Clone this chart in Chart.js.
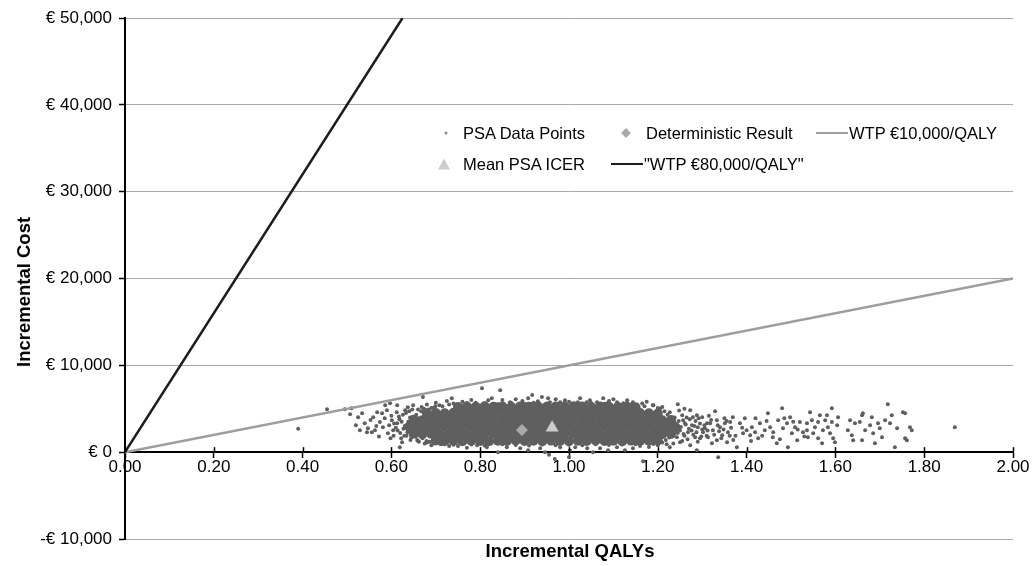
<!DOCTYPE html>
<html lang="en">
<head>
<meta charset="utf-8">
<title>PSA – plano custo-efetividade</title>
<script src="https://cdn.jsdelivr.net/npm/chart.js@4.4.1/dist/chart.umd.min.js"></script>
<style>
  html, body { margin: 0; background: #fff; }
  #painel { position: relative; width: 1034px; height: 566px; font-family: "Liberation Sans", Arial, sans-serif; color: #000; }
  #painel canvas { position: absolute; left: 0; top: 0; }
  .titulo-eixo { position: absolute; font-weight: bold; font-size: 18.5px; white-space: nowrap; transform: translate(-50%, -50%); }
  #tituloY { transform: translate(-50%, -50%) rotate(-90deg); }
  .legenda-texto { position: absolute; font-size: 16.5px; white-space: nowrap; transform: translateY(-50%); }
  .legenda-marca { position: absolute; transform: translate(-50%, -50%); }
</style>
</head>
<body>
<div id="painel">
  <canvas id="grafico" width="1034" height="566"></canvas>
  <div id="tituloY" class="titulo-eixo" style="left:24px; top:292px">Incremental Cost</div>
  <div id="tituloX" class="titulo-eixo" style="left:570px; top:551px">Incremental QALYs</div>
  <div id="legenda"></div>
</div>
<script>
/* Plano custo-efetividade da PSA (Chart.js). */

// Limites dos eixos: [mínimo, máximo, passo]
const eixoQaly = [0, 2, 0.2];
const eixoCusto = [-10000, 50000, 10000];

// Núcleo saturado da nuvem (QALY, custo) – onde os pontos se sobrepõem por completo
const psaNucleo = [
  [0.70,1340],[0.72,1290],[0.74,1310],[0.76,1270],[0.78,1330],[0.80,1300],[0.82,1260],[0.84,1320],[0.86,1290],
  [0.88,1340],[0.90,1280],[0.92,1310],[0.94,1270],[0.96,1330],[0.98,1300],[1.00,1260],[1.02,1320],[1.04,1290],
  [1.06,1340],[1.08,1280],[1.10,1310],[1.12,1270],[1.14,1330],[1.16,1300],[1.18,1320],[1.20,1350],
  [0.65,2120],[0.67,2080],[0.69,2110],[0.71,2070],[0.73,2130],[0.75,2100],[0.77,2060],[0.79,2120],[0.81,2090],
  [0.83,2140],[0.85,2080],[0.87,2110],[0.89,2070],[0.91,2130],[0.93,2100],[0.95,2060],[0.97,2120],[0.99,2090],
  [1.01,2140],[1.03,2080],[1.05,2110],[1.07,2070],[1.09,2130],[1.11,2100],[1.13,2060],[1.15,2120],[1.17,2090],
  [1.19,2140],[1.21,2080],[1.23,2110],
  [0.64,2920],[0.66,2880],[0.68,2910],[0.70,2870],[0.72,2930],[0.74,2900],[0.76,2860],[0.78,2920],[0.80,2890],
  [0.82,2940],[0.84,2880],[0.86,2910],[0.88,2870],[0.90,2930],[0.92,2900],[0.94,2860],[0.96,2920],[0.98,2890],
  [1.00,2940],[1.02,2880],[1.04,2910],[1.06,2870],[1.08,2930],[1.10,2900],[1.12,2860],[1.14,2920],[1.16,2890],
  [1.18,2940],[1.20,2880],[1.22,2910],[1.24,2870],
  [0.65,3720],[0.67,3680],[0.69,3710],[0.71,3670],[0.73,3730],[0.75,3700],[0.77,3660],[0.79,3720],[0.81,3690],
  [0.83,3740],[0.85,3680],[0.87,3710],[0.89,3670],[0.91,3730],[0.93,3700],[0.95,3660],[0.97,3720],[0.99,3690],
  [1.01,3740],[1.03,3680],[1.05,3710],[1.07,3670],[1.09,3730],[1.11,3700],[1.13,3660],[1.15,3720],[1.17,3690],
  [1.19,3740],[1.21,3680],[1.23,3700],
  [0.68,4480],[0.70,4520],[0.72,4470],[0.74,4530],[0.76,4500],[0.78,4460],[0.80,4520],[0.82,4490],[0.84,4540],
  [0.86,4480],[0.88,4510],[0.90,4470],[0.92,4530],[0.94,4500],[0.96,4460],[0.98,4520],[1.00,4490],[1.02,4540],
  [1.04,4480],[1.06,4510],[1.08,4470],[1.10,4530],[1.12,4500],[1.14,4460],[1.16,4520],[1.18,4490],[1.20,4450],
  [0.75,5200],[0.77,5260],[0.79,5230],[0.81,5280],[0.83,5220],[0.85,5250],[0.87,5210],[0.89,5270],[0.91,5240],
  [0.93,5290],[0.95,5230],[0.97,5260],[0.99,5220],[1.01,5280],[1.03,5250],[1.05,5210],[1.07,5270],[1.09,5240],
  [1.11,5200],[1.13,5250],[1.15,5180],
];

// Pontos soltos ao redor do núcleo e cauda à direita (QALY, custo)
const psaDispersos = [
  // borda esquerda
  [0.39,2700],[0.455,4950],[0.495,4950],[0.51,5070],[0.507,4380],[0.525,4030],[0.534,4490],[0.52,3110],[0.529,2530],
  [0.54,3340],[0.547,2760],[0.545,2300],[0.556,2300],[0.563,2530],[0.559,4030],[0.568,4610],[0.579,4490],[0.574,3460],
  [0.581,2880],[0.586,5410],[0.59,4840],[0.597,5640],[0.613,5410],[0.619,580],[0.624,1150],[0.631,4840],[0.637,5180],
  [0.649,5410],[0.671,6340],[0.736,6220],[0.592,2190],[0.604,2530],[0.601,3690],[0.613,3340],[0.585,3900],[0.595,3100],
  [0.60,4200],[0.605,1900],[0.61,2800],[0.612,4600],[0.618,3800],[0.62,2200],[0.622,1600],[0.626,4300],[0.63,3000],
  [0.634,1900],[0.638,3500],[0.64,4700],[0.643,1400],[0.648,2600],[0.652,3900],[0.655,1800],[0.66,4900],[0.662,1200],
  [0.668,5200],[0.675,1000],[0.68,5500],[0.69,800],[0.70,5700],[0.712,900],[0.725,5900],[0.73,700],[0.572,1800],
  [0.598,1600],[0.566,3000],[0.553,3700],
  [0.606,3300],[0.614,2500],[0.617,4100],[0.623,3500],[0.627,2700],[0.629,1900],[0.633,4500],[0.636,2300],[0.639,3100],
  [0.642,4000],[0.645,1700],[0.647,4900],[0.65,3400],[0.653,2300],[0.656,4300],[0.658,1400],[0.661,3900],[0.664,2600],
  [0.667,4700],[0.67,1600],[0.673,5000],[0.676,4100],[0.679,1300],[0.683,4900],[0.686,1200],[0.69,5100],[0.694,1000],
  [0.699,5300],[0.703,1100],[0.708,5400],
  // borda de cima
  [0.804,7370],[0.845,7140],[0.818,5990],[0.826,6220],[0.867,5760],[0.908,6220],[0.917,6570],[0.939,6340],[0.953,6220],
  [0.957,5760],[0.98,5760],[0.991,5990],[1.02,5760],[1.025,6220],[1.047,5990],[1.063,5760],[1.077,6220],[1.086,5640],
  [1.108,5760],[1.122,5640],[1.131,5990],[1.144,5760],[1.153,5410],[0.76,5800],[0.78,6000],[0.79,5700],[0.85,6000],
  [0.88,6100],[0.895,5900],[0.93,5850],[0.97,6100],[1.0,5800],[1.04,5750],[1.09,5900],[1.1,6100],[1.165,5600],
  [1.175,5800],[1.19,5400],[1.21,5200],[0.74,5600],[0.715,5300],[0.695,5100],
  [0.73,5500],[0.77,5650],[0.81,5600],[0.84,5550],[0.87,5650],[0.90,5580],[0.92,5700],[0.95,5600],[0.99,5680],
  [1.02,5550],[1.05,5650],[1.08,5580],[1.11,5620],[1.14,5500],[1.17,5300],[1.20,5100],
  // borda de baixo (alguns abaixo de zero)
  [0.793,810],[0.815,580],[0.84,0],[0.86,580],[0.89,460],[0.908,230],[0.935,460],[0.946,0],[0.98,580],[1.002,230],
  [1.014,580],[1.041,460],[1.054,0],[1.07,460],[1.088,230],[1.108,580],[1.126,230],[1.144,460],[0.72,900],[0.75,700],
  [0.77,500],[1.16,700],[1.18,600],[1.2,800],[1.22,900],[0.68,1100],[0.66,1300],
  [0.71,950],[0.74,850],[0.78,880],[0.81,780],[0.85,900],[0.88,820],[0.91,760],[0.94,880],[0.97,800],[1.00,860],
  [1.03,790],[1.06,900],[1.09,820],[1.12,870],[1.15,900],[1.19,950],
  [0.968,-800],[1.0,-580],[1.167,-1040],[1.336,-580],[0.955,-300],
  // transição à direita do núcleo
  [1.189,5410],[1.212,3690],[1.227,4610],[1.234,2880],[1.243,1730],[1.245,5530],[1.25,1150],[1.227,580],[1.255,4260],
  [1.257,3690],[1.261,3340],[1.268,2300],[1.273,4840],[1.273,810],[1.277,3110],[1.279,4030],[1.284,1730],[1.288,4260],
  [1.288,230],[1.29,2880],[1.295,1610],[1.30,4030],[1.302,2300],[1.306,2760],[1.311,3340],[1.313,1730],[1.318,3340],
  [1.322,1040],[1.324,2530],[1.329,4720],[1.333,3690],[1.333,1380],[1.34,2880],[1.345,1960],[1.351,3340],[1.356,1150],
  [1.358,2300],[1.363,3460],[1.369,4030],[1.378,580],[1.385,3340],[1.392,2190],[1.396,3920],[1.40,2530],[1.408,1960],
  [1.25,2500],[1.26,1900],[1.265,4000],[1.27,2700],[1.28,2000],[1.285,3600],[1.29,1200],[1.295,3300],[1.30,2600],
  [1.31,1900],[1.315,4200],[1.24,3300],[1.245,2200],[1.248,4800],[1.255,1300],[1.235,1000],[1.26,5000],
  [1.205,5000],[1.21,1100],[1.215,4700],[1.218,1400],[1.222,4300],[1.226,1700],[1.229,3500],[1.232,2000],[1.238,4000],
  [1.241,2500],[1.247,3600],[1.252,2900],[1.258,2100],[1.263,3200],[1.267,1500],[1.272,3800],[1.276,2500],[1.282,3000],
  [1.287,2300],[1.292,3900],[1.298,1800],[1.305,3100],[1.312,2500],[1.32,3700],[1.327,2000],[1.335,3100],[1.343,1600],
  [1.348,2600],[1.355,3600],[1.362,1900],
  // cauda
  [1.412,2880],[1.419,2300],[1.426,1610],[1.43,3340],[1.441,2530],[1.448,4490],[1.453,2880],[1.459,1730],[1.468,1040],
  [1.471,3690],[1.48,5070],[1.482,2760],[1.491,3340],[1.493,580],[1.498,4030],[1.502,2190],[1.509,2880],[1.514,1380],
  [1.52,3460],[1.527,2300],[1.536,3340],[1.42,3900],[1.435,1900],[1.445,3600],[1.46,2300],[1.475,1500],[1.485,3900],
  [1.505,3500],[1.515,2600],[1.53,1800],[1.41,1300],[1.39,2800],[1.375,1900],[1.365,2800],[1.35,3900],[1.338,2400],
  [1.37,1400],
  [1.536,2530],[1.543,4610],[1.547,3690],[1.538,1730],[1.55,2190],[1.554,2880],[1.561,1610],[1.561,3460],[1.565,4260],
  [1.572,2530],[1.57,1040],[1.577,3690],[1.581,4260],[1.583,2880],[1.588,2190],[1.592,5070],[1.592,3460],[1.595,1610],
  [1.599,1150],[1.604,3110],[1.606,4030],[1.628,2530],[1.633,3690],[1.637,1960],[1.64,1380],[1.644,3340],[1.655,3460],
  [1.66,4260],[1.662,4490],[1.667,2530],[1.66,1380],[1.678,3110],[1.682,4030],[1.685,2190],[1.689,1040],[1.696,3340],
  [1.70,2760],[1.705,1730],[1.712,3690],[1.718,5530],[1.723,3340],[1.727,4260],[1.734,580],[1.739,2760],[1.752,4610],
  [1.757,4490],[1.757,1610],[1.761,1380],[1.768,2880],[1.772,2530],[1.869,2880],
];

const resultadoDeterministico = [[0.894, 2550]];
const mediaPSA = [[0.962, 2800]];
// Retas de disposição a pagar: origem até a borda do gráfico
const wtp10mil = [[0, 0], [2, 20000]];
const wtp80mil = [[0, 0], [0.625, 50000]];

(() => {
  'use strict';

  const COR_PONTOS = '#5f5f5f';
  const COR_DETERMINISTICO = '#a9a9a9';
  const COR_MEDIA = '#cdcdcd';
  const COR_WTP10 = '#9e9e9e';
  const COR_WTP80 = '#1c1c1c';
  const FONTE = '"Liberation Sans", Arial, sans-serif';

  const paraPontos = (pares) => pares.map(([x, y]) => ({ x, y }));
  const fmtNum = new Intl.NumberFormat('en-US');
  const fmtEuro = (v) => (v === 0 ? '€ 0' : `${v < 0 ? '-' : ''}€ ${fmtNum.format(Math.abs(v))}`);

  // Marcas do eixo X atravessam a linha do eixo (o Chart.js só desenha a metade de baixo)
  const marcasCruzadas = {
    id: 'marcasCruzadas',
    afterDraw(chart) {
      const { ctx, scales } = chart;
      const y0 = scales.y.getPixelForValue(0);
      ctx.save();
      ctx.strokeStyle = '#000';
      ctx.lineWidth = 1.5;
      for (const t of scales.x.ticks) {
        const px = Math.round(scales.x.getPixelForValue(t.value)) + 0.5;
        ctx.beginPath();
        ctx.moveTo(px, y0 - 5);
        ctx.lineTo(px, y0);
        ctx.stroke();
      }
      ctx.restore();
    },
  };

  const dados = {
    datasets: [
      {
        label: 'PSA Data Points',
        data: paraPontos(psaNucleo),
        backgroundColor: COR_PONTOS,
        borderWidth: 0,
        pointRadius: 5,
        order: 5,
      },
      {
        label: 'PSA Data Points',
        data: paraPontos(psaDispersos),
        backgroundColor: COR_PONTOS,
        borderWidth: 0,
        pointRadius: 2,
        order: 4,
      },
      {
        label: 'Deterministic Result',
        data: paraPontos(resultadoDeterministico),
        pointStyle: 'rectRot',
        backgroundColor: COR_DETERMINISTICO,
        borderWidth: 0,
        pointRadius: 6,
        order: 3,
      },
      {
        label: 'Mean PSA ICER',
        data: paraPontos(mediaPSA),
        pointStyle: 'triangle',
        backgroundColor: COR_MEDIA,
        borderWidth: 0,
        pointRadius: 7.5,
        order: 2,
      },
      {
        label: 'WTP €10,000/QALY',
        data: paraPontos(wtp10mil),
        showLine: true,
        borderColor: COR_WTP10,
        borderWidth: 2.5,
        pointRadius: 0,
        order: 1,
      },
      {
        label: '"WTP €80,000/QALY"',
        data: paraPontos(wtp80mil),
        showLine: true,
        borderColor: COR_WTP80,
        borderWidth: 2.5,
        pointRadius: 0,
        order: 0,
      },
    ],
  };

  const opcoes = {
    responsive: false,
    animation: false,
    events: [],
    layout: { padding: { left: 0, right: 21, top: 18, bottom: 27 } },
    plugins: { legend: { display: false }, tooltip: { enabled: false } },
    scales: {
      x: {
        type: 'linear',
        position: { y: 0 },
        min: eixoQaly[0],
        max: eixoQaly[1],
        ticks: {
          stepSize: eixoQaly[2],
          autoSkip: false,
          maxRotation: 0,
          padding: 0,
          color: '#000',
          font: { family: FONTE, size: 17 },
          callback: (v) => Number(v).toFixed(2),
        },
        grid: { drawOnChartArea: false, tickLength: 5, tickColor: '#000', tickWidth: 1.5 },
        border: { color: '#000', width: 2 },
      },
      y: {
        type: 'linear',
        position: 'left',
        min: eixoCusto[0],
        max: eixoCusto[1],
        afterFit: (escala) => { escala.width = 125; },
        ticks: {
          stepSize: eixoCusto[2],
          padding: 7,
          color: '#000',
          font: { family: FONTE, size: 17 },
          callback: (v) => fmtEuro(v),
        },
        grid: { color: '#a8a8a8', lineWidth: 1, tickLength: 6, tickColor: '#000', tickWidth: 1.5 },
        border: { color: '#000', width: 2 },
      },
    },
  };

  new Chart(document.getElementById('grafico'), { type: 'scatter', data: dados, options: opcoes, plugins: [marcasCruzadas] });

  // Legenda em HTML, duas linhas como no original
  const legendaEl = document.getElementById('legenda');
  const ds = dados.datasets;
  const itens = [
    { linha: 133, marca: 'ponto', cor: COR_PONTOS, mx: 446, tx: 463, texto: ds[1].label },
    { linha: 133, marca: 'losango', cor: COR_DETERMINISTICO, mx: 626, tx: 646, texto: ds[2].label },
    { linha: 133, marca: 'reta', cor: COR_WTP10, mx: 832, tx: 849, texto: ds[4].label },
    { linha: 164, marca: 'triangulo', cor: COR_MEDIA, mx: 444, tx: 463, texto: ds[3].label },
    { linha: 164, marca: 'reta', cor: COR_WTP80, mx: 627, tx: 644, texto: ds[5].label },
  ];

  for (const item of itens) {
    const marca = document.createElement('span');
    marca.className = 'legenda-marca';
    marca.style.left = `${item.mx}px`;
    marca.style.top = `${item.linha}px`;
    if (item.marca === 'ponto') {
      Object.assign(marca.style, { width: '3px', height: '3px', borderRadius: '50%', background: '#8a8a8a' });
    } else if (item.marca === 'losango') {
      Object.assign(marca.style, { width: '7px', height: '7px', background: item.cor, transform: 'translate(-50%, -50%) rotate(45deg)' });
    } else if (item.marca === 'triangulo') {
      Object.assign(marca.style, {
        width: '0', height: '0',
        borderLeft: '6px solid transparent', borderRight: '6px solid transparent',
        borderBottom: `11px solid ${item.cor}`,
      });
    } else {
      Object.assign(marca.style, { width: '32px', height: '2px', background: item.cor });
    }
    const texto = document.createElement('span');
    texto.className = 'legenda-texto';
    texto.style.left = `${item.tx}px`;
    texto.style.top = `${item.linha}px`;
    texto.textContent = item.texto;
    legendaEl.append(marca, texto);
  }
})();
</script>
</body>
</html>
